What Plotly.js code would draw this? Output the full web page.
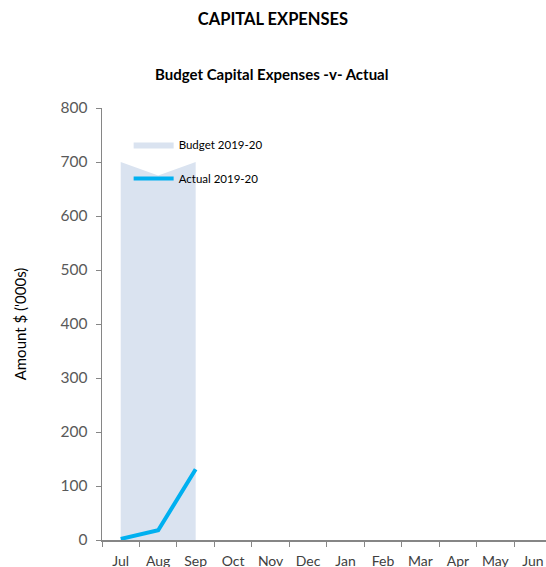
<!DOCTYPE html>
<html>
<head>
<meta charset="utf-8">
<script src="https://cdn.plot.ly/plotly-3.0.1.min.js"></script>
<style>html,body{margin:0;padding:0;overflow:hidden;background:#fff;}#chart{width:546px;height:567px;}</style>
</head>
<body>
<div id="chart"></div>
<script>
const months = ["Jul","Aug","Sep","Oct","Nov","Dec","Jan","Feb","Mar","Apr","May","Jun"];
const budgetMonths = ["Jul","Aug","Sep"];
const budget = [700, 675, 700];
const actualMonths = ["Jul","Aug","Sep"];
const actual = [2, 18, 131];
const yTicks = [0,100,200,300,400,500,600,700,800];

const FONT = "Lato, 'Open Sans', sans-serif";

const traces = [
  {
    x: budgetMonths, y: budget, type: "scatter", mode: "lines",
    name: "Budget 2019-20", fill: "tozeroy", fillcolor: "#dae3f0",
    line: {width: 0, color: "#dae3f0"}, legendgroup: "a"
  },
  {
    x: actualMonths, y: actual, type: "scatter", mode: "lines",
    name: "Actual 2019-20", line: {width: 4, color: "#00b0f0"}, legendgroup: "b"
  }
];

const layout = {
  width: 546, height: 567,
  margin: {l: 102, r: 0, t: 108, b: 27},
  paper_bgcolor: "#ffffff", plot_bgcolor: "#ffffff",
  font: {family: FONT, color: "#595959"},
  title: {text: "<b>CAPITAL EXPENSES</b>", font: {family: FONT, size: 16.5, color: "#000"}, x: 0.5, xref: "container", xanchor: "center", y: 0.966, yanchor: "middle"},
  annotations: [{
    text: "<b>Budget Capital Expenses -v- Actual</b>", xref: "paper", yref: "paper",
    x: (271 - 102) / 444, y: (567 - 74 - 27) / 432, xanchor: "center", yanchor: "middle",
    showarrow: false, font: {family: FONT, size: 15, color: "#000"}
  }],
  showlegend: true,
  legend: {
    x: 0.06, y: 0.949, xanchor: "left", yanchor: "top",
    font: {family: FONT, size: 11.5, color: "#000"},
    bgcolor: "rgba(0,0,0,0)", traceorder: "grouped", tracegroupgap: 15, itemwidth: 40
  },
  xaxis: {
    type: "category", categoryorder: "array", categoryarray: months,
    tickvals: months, ticktext: months,
    range: [-0.5, 11.35], showgrid: false, zeroline: false,
    showline: true, linecolor: "#868686", linewidth: 1.5,
    ticks: "outside", ticklen: 5, tickcolor: "#868686", tickson: "boundaries",
    ticklabelstandoff: 8,
    tickfont: {family: FONT, size: 14, color: "#404040"}, fixedrange: true
  },
  yaxis: {
    range: [0, 800], tickvals: yTicks, showgrid: false, zeroline: false,
    showline: true, linecolor: "#868686", linewidth: 1.5,
    ticks: "outside", ticklen: 5, tickcolor: "#868686",
    ticklabelstandoff: 5,
    tickfont: {family: FONT, size: 15.5, color: "#595959"},
    title: {text: "Amount $ ('000s)", font: {family: FONT, size: 15, color: "#000"}, standoff: 30},
    fixedrange: true
  }
};

Plotly.newPlot("chart", traces, layout, {displayModeBar: false, staticPlot: true});
</script>
</body>
</html>
